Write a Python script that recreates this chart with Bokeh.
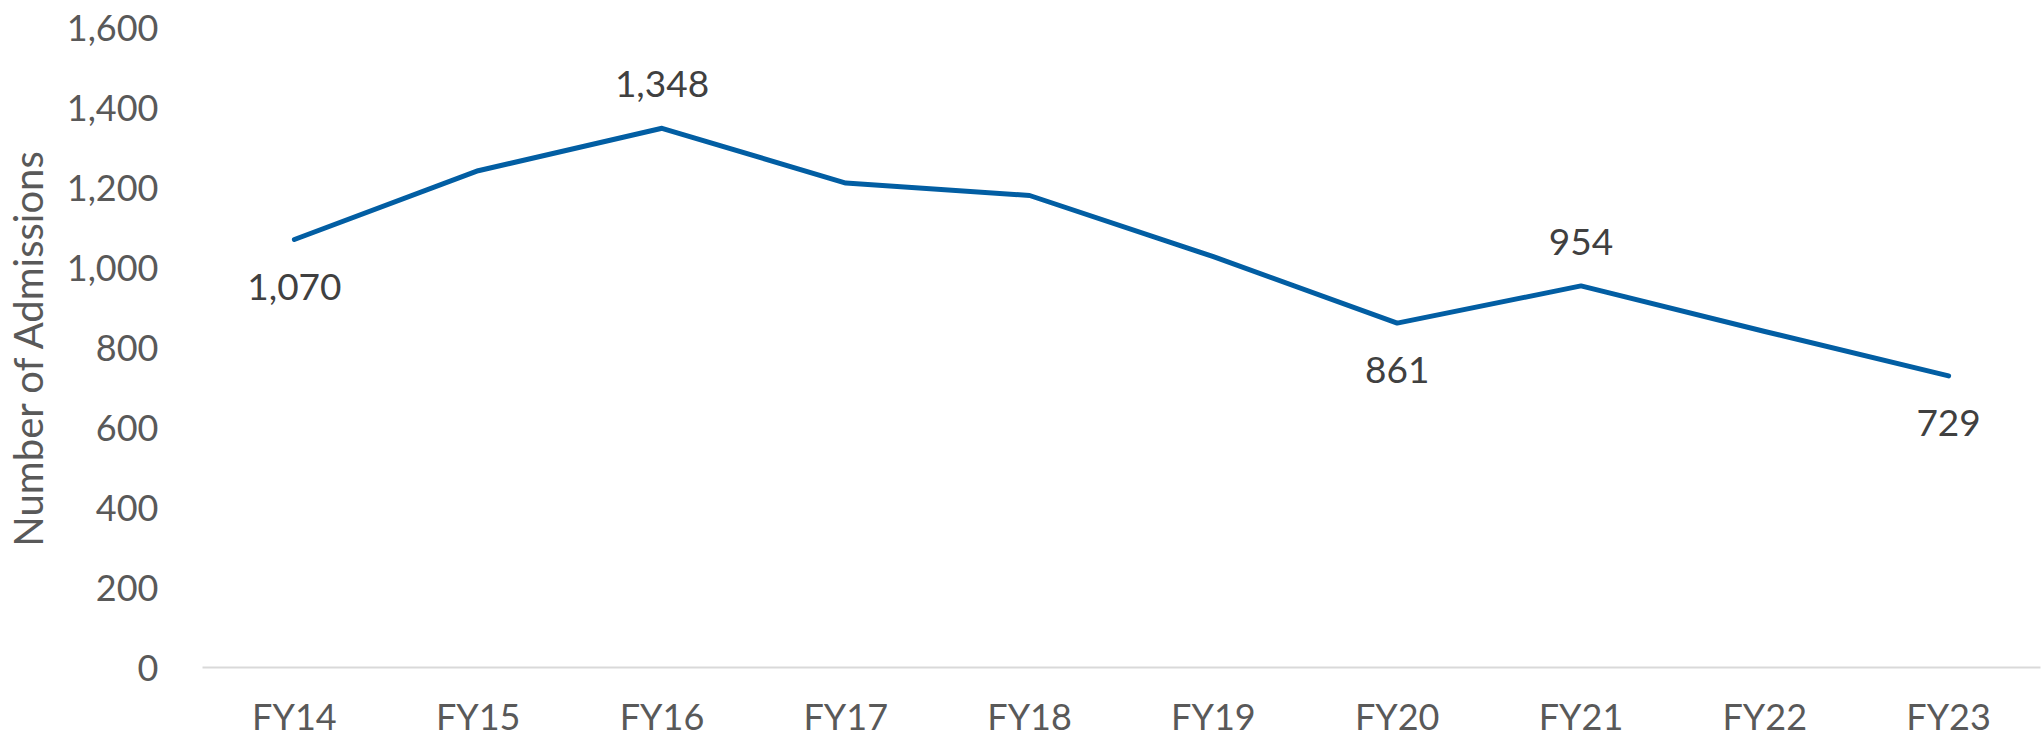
from bokeh.plotting import figure
from bokeh.models import (ColumnDataSource, FactorRange, Range1d,
                          SingleIntervalTicker, NumeralTickFormatter)
from bokeh.embed import file_html
from bokeh.resources import INLINE

# Annual admissions by fiscal year
years = ["FY14", "FY15", "FY16", "FY17", "FY18", "FY19", "FY20", "FY21", "FY22", "FY23"]
admissions = [1070, 1242, 1348, 1211, 1180, 1027, 861, 954, 840, 729]

# Only some points carry a value label; "below"/"above" sets the side
labelled_years = ["FY14", "FY16", "FY20", "FY21", "FY23"]
label_sides = ["below", "above", "below", "above", "below"]

FONT = "Lato"
AXIS_GREY = "#595959"
LINE_BLUE = "#025EA3"

p = figure(
    width=2043, height=740,
    x_range=FactorRange(*years),
    y_range=Range1d(0, 1600),
    output_backend="svg",
    toolbar_location=None,
    min_border_left=201, min_border_right=3,
    min_border_top=27, min_border_bottom=0,
)
p.outline_line_color = None
p.background_fill_color = "white"
p.border_fill_color = "white"
p.grid.visible = False

src = ColumnDataSource(dict(year=years, value=admissions))
p.line("year", "value", source=src, line_color=LINE_BLUE, line_width=5,
       line_join="round", line_cap="round")

# Value labels, placed under or over their point
lookup = dict(zip(years, admissions))
for side in ("below", "above"):
    ys = [y for y, s in zip(labelled_years, label_sides) if s == side]
    vals = [lookup[y] for y in ys]
    lsrc = ColumnDataSource(dict(year=ys, value=vals,
                                 txt=[f"{v:,}" for v in vals]))
    p.text("year", "value", text="txt", source=lsrc,
           text_align="center", text_baseline="middle",
           y_offset=47 if side == "below" else -44,
           text_font_size="37px", text_color="#404040",
           text_font={"value": FONT})

# Y axis
ya = p.yaxis[0]
ya.ticker = SingleIntervalTicker(interval=200)
ya.formatter = NumeralTickFormatter(format="0,0")
ya.axis_line_color = None
ya.major_tick_out = 0
ya.major_tick_in = 0
ya.minor_tick_out = 0
ya.minor_tick_in = 0
ya.major_label_standoff = 44
ya.major_label_text_font = FONT
ya.major_label_text_font_size = "36px"
ya.major_label_text_color = AXIS_GREY
ya.axis_label = "Number of Admissions"
ya.axis_label_text_font = FONT
ya.axis_label_text_font_size = "40px"
ya.axis_label_text_font_style = "normal"
ya.axis_label_text_color = AXIS_GREY
ya.axis_label_standoff = 12

# X axis: light baseline with category labels
xa = p.xaxis[0]
xa.axis_line_color = "#D9D9D9"
xa.axis_line_width = 2
xa.major_tick_out = 0
xa.major_tick_in = 0
xa.minor_tick_out = 0
xa.minor_tick_in = 0
xa.major_label_standoff = 26
xa.major_label_text_font = FONT
xa.major_label_text_font_size = "36px"
xa.major_label_text_color = AXIS_GREY

open("out.html", "w").write(file_html(p, INLINE))
